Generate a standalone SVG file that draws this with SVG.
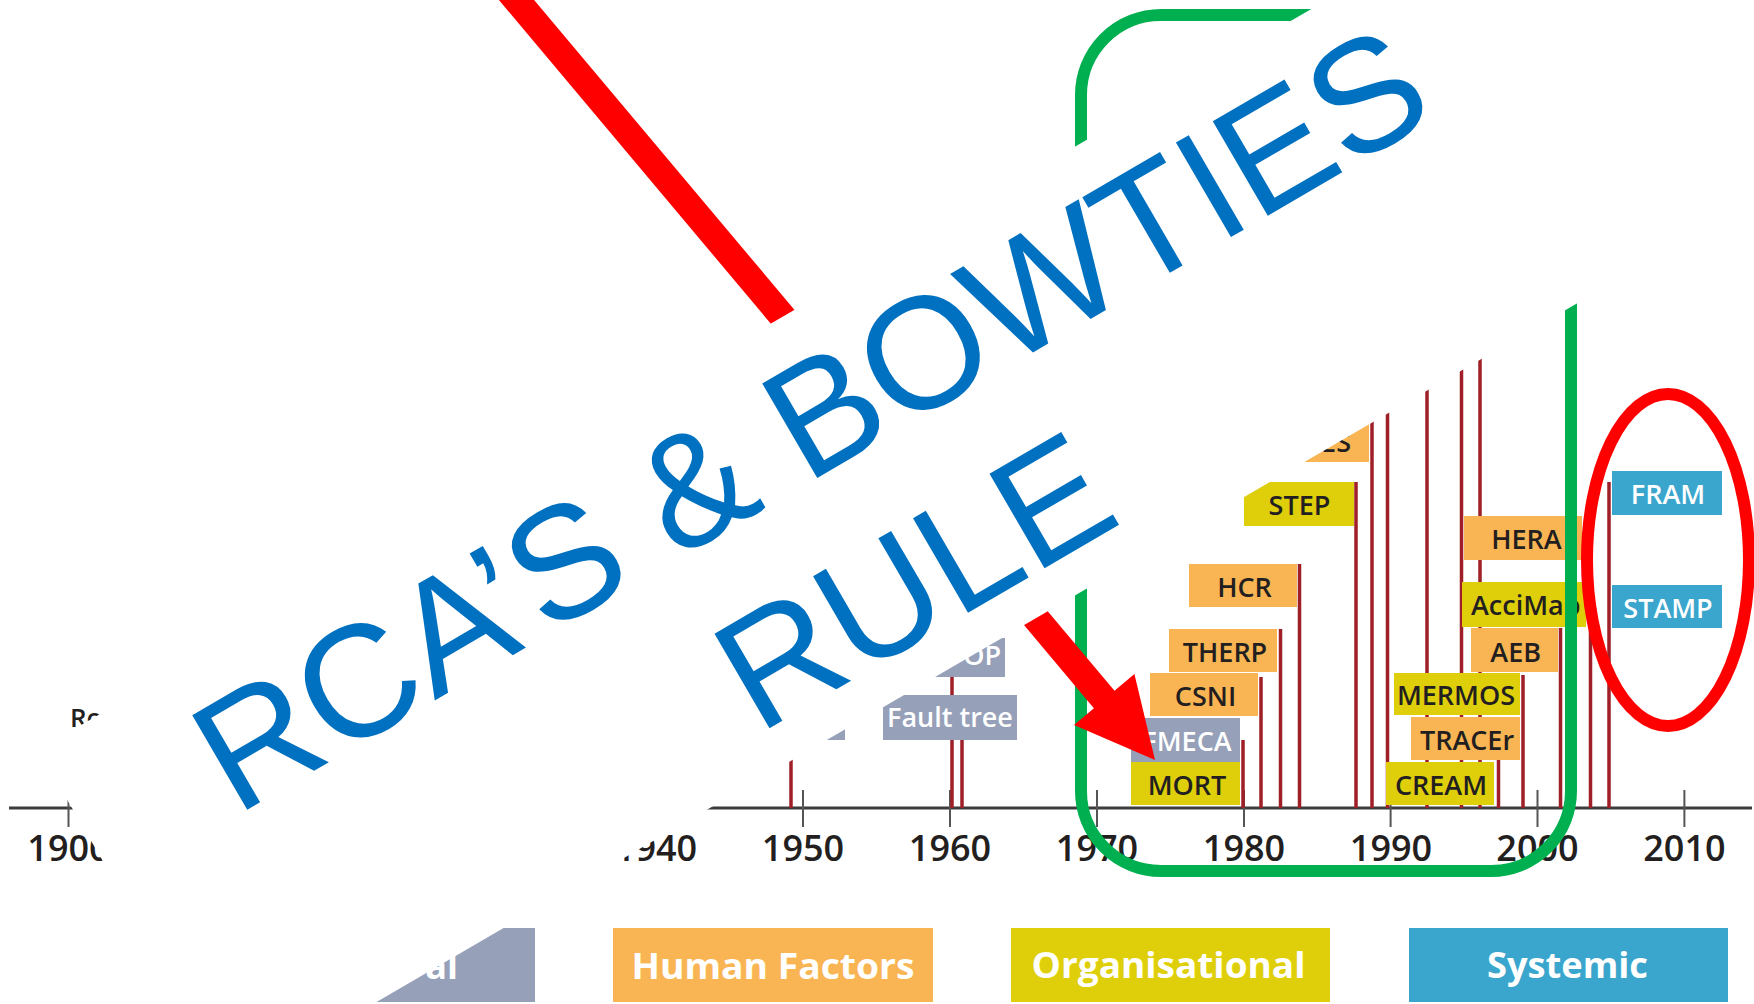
<svg xmlns="http://www.w3.org/2000/svg" width="1754" height="1004" viewBox="0 0 1754 1004">
<style>
.axis{stroke:#3c3c3c;stroke-width:3}
.tick{stroke:#555;stroke-width:2}
.yr{font-family:"Open Sans","Noto Sans",sans-serif;font-weight:600;font-size:36px;fill:#231f20;text-anchor:middle}
.stem{stroke:#9e1f27;stroke-width:3.5}
.lbl{font-family:"Open Sans","Noto Sans",sans-serif;font-weight:600;font-size:27px;text-anchor:middle}
.dark{fill:#231f20}
.light{fill:#fff}
.tech{fill:#96a0b8}
.hf{fill:#f9b553}
.org{fill:#dfcf0b}
.sys{fill:#3aa6cd}
.leg{font-family:"Open Sans","Noto Sans",sans-serif;font-weight:700;font-size:36px;fill:#fff;text-anchor:middle}
.big{font-family:"Liberation Sans",Arial,sans-serif;font-size:159px;fill:#0070c0}
</style>
<rect x="0" y="0" width="1754" height="1004" fill="#fff"/>

<g id="timeline-axis">
<line class="axis" x1="9" y1="808" x2="1752" y2="808"/>
<line class="tick" x1="68.5" y1="790" x2="68.5" y2="827"/>
<line class="tick" x1="803" y1="790" x2="803" y2="827"/>
<line class="tick" x1="950" y1="790" x2="950" y2="827"/>
<line class="tick" x1="1097" y1="790" x2="1097" y2="827"/>
<line class="tick" x1="1244" y1="790" x2="1244" y2="827"/>
<line class="tick" x1="1390.6" y1="790" x2="1390.6" y2="827"/>
<line class="tick" x1="1537.5" y1="790" x2="1537.5" y2="827"/>
<line class="tick" x1="1684.4" y1="790" x2="1684.4" y2="827"/>
<text class="yr" x="68.5" y="861">1900</text>
<text class="yr" x="656" y="861">1940</text>
<text class="yr" x="803" y="861">1950</text>
<text class="yr" x="950" y="861">1960</text>
<text class="yr" x="1097" y="861">1970</text>
<text class="yr" x="1244" y="861">1980</text>
<text class="yr" x="1391" y="861">1990</text>
<text class="yr" x="1537.5" y="861">2000</text>
<text class="yr" x="1684.4" y="861">2010</text>
</g>

<g id="connectors">
<line class="stem" x1="791" y1="740" x2="791" y2="808"/>
<line class="stem" x1="952" y1="677" x2="952" y2="808"/>
<line class="stem" x1="962" y1="740" x2="962" y2="808"/>
<line class="stem" x1="1243" y1="740" x2="1243" y2="808"/>
<line class="stem" x1="1261" y1="677" x2="1261" y2="808"/>
<line class="stem" x1="1280.5" y1="629" x2="1280.5" y2="808"/>
<line class="stem" x1="1299.5" y1="564" x2="1299.5" y2="808"/>
<line class="stem" x1="1356" y1="482" x2="1356" y2="808"/>
<line class="stem" x1="1372" y1="418" x2="1372" y2="808"/>
<line class="stem" x1="1387.5" y1="300" x2="1387.5" y2="808"/>
<line class="stem" x1="1427" y1="300" x2="1427" y2="808"/>
<line class="stem" x1="1461.5" y1="300" x2="1461.5" y2="808"/>
<line class="stem" x1="1480" y1="300" x2="1480" y2="808"/>
<line class="stem" x1="1498.5" y1="760" x2="1498.5" y2="808"/>
<line class="stem" x1="1523" y1="675" x2="1523" y2="808"/>
<line class="stem" x1="1560.5" y1="628" x2="1560.5" y2="808"/>
<line class="stem" x1="1590.5" y1="560" x2="1590.5" y2="808"/>
<line class="stem" x1="1609" y1="482" x2="1609" y2="808"/>
</g>

<g id="node-fmea"><rect class="tech" x="736" y="697" width="109" height="43"/></g>
<g id="node-faulttree"><rect class="tech" x="883" y="695" width="134" height="45"/><text class="lbl light" x="950" y="727">Fault tree</text></g>
<g id="node-hazop"><rect class="tech" x="895" y="638" width="110" height="39"/><text class="lbl light" x="1001" y="665" text-anchor="end" style="text-anchor:end">OP</text></g>
<g id="node-hpes"><rect class="hf" x="1259" y="418" width="110" height="44"/><text class="lbl dark" x="1351" y="452" style="text-anchor:end">ES</text></g>
<g id="node-step"><rect class="org" x="1244" y="482" width="110" height="44"/><text class="lbl dark" x="1299.5" y="515">STEP</text></g>
<g id="node-hcr"><rect class="hf" x="1189" y="564" width="108" height="43"/><text class="lbl dark" x="1244.5" y="597">HCR</text></g>
<g id="node-therp"><rect class="hf" x="1169" y="629" width="108" height="43"/><text class="lbl dark" x="1225" y="662">THERP</text></g>
<g id="node-csni"><rect class="hf" x="1150" y="673" width="108" height="43"/><text class="lbl dark" x="1205.5" y="706">CSNI</text></g>
<g id="node-fmeca"><rect class="tech" x="1131" y="718" width="109" height="44"/><text class="lbl light" x="1187" y="751">FMECA</text></g>
<g id="node-mort"><rect class="org" x="1131" y="762" width="109" height="43"/><text class="lbl dark" x="1187" y="795">MORT</text></g>
<g id="node-cream"><rect class="org" x="1386" y="762" width="108" height="43"/><text class="lbl dark" x="1441" y="795">CREAM</text></g>
<g id="node-tracer"><rect class="hf" x="1411" y="717" width="109" height="43"/><text class="lbl dark" x="1467" y="750">TRACEr</text></g>
<g id="node-mermos"><rect class="org" x="1394" y="673" width="126" height="42"/><text class="lbl dark" x="1456" y="705">MERMOS</text></g>
<g id="node-aeb"><rect class="hf" x="1471" y="628" width="87" height="44"/><text class="lbl dark" x="1515.7" y="662">AEB</text></g>
<g id="node-accimap"><rect class="org" x="1462" y="582" width="124" height="45"/><text class="lbl dark" x="1471" y="615" style="text-anchor:start">AcciMap</text></g>
<g id="node-hera"><rect class="hf" x="1464" y="516" width="118" height="44"/><text class="lbl dark" x="1526.5" y="549">HERA</text></g>
<g id="node-fram"><rect class="sys" x="1612" y="471" width="110" height="44"/><text class="lbl light" x="1668" y="504">FRAM</text></g>
<g id="node-stamp"><rect class="sys" x="1612" y="585" width="110" height="43"/><text class="lbl light" x="1668" y="618">STAMP</text></g>
<g id="node-rootcause"><text class="lbl dark" x="70" y="727" font-size="26" style="text-anchor:start;font-size:26px">Ro</text></g>

<g id="legend">
<g id="legend-technical"><rect class="tech" x="215" y="928" width="320" height="74"/><text class="leg" x="458" y="979" style="text-anchor:end">al</text></g>
<g id="legend-human"><rect class="hf" x="613" y="928" width="320" height="74"/><text class="leg" x="773" y="979" textLength="283" lengthAdjust="spacingAndGlyphs">Human Factors</text></g>
<g id="legend-org"><rect class="org" x="1011" y="928" width="319" height="74"/><text class="leg" x="1168.5" y="978" textLength="274" lengthAdjust="spacingAndGlyphs">Organisational</text></g>
<g id="legend-sys"><rect class="sys" x="1409" y="928" width="319" height="74"/><text class="leg" x="1567.5" y="978" textLength="161" lengthAdjust="spacingAndGlyphs">Systemic</text></g>
</g>

<g id="highlight">
<rect x="1081" y="15" width="490" height="856" rx="80" ry="80" fill="none" stroke="#00b050" stroke-width="12"/>
<ellipse cx="1668" cy="560" rx="81" ry="166" fill="none" stroke="#ff0000" stroke-width="12"/>
<polygon fill="#ff0000" points="493.2,-48.7 1114.5,690.8 1134.4,674.1 1155,760 1074,724.9 1093.9,708.2 472.6,-31.3"/>
</g>

<g id="banner">
<rect x="0" y="0" width="2400" height="388" fill="#fff" transform="translate(38.2 750) rotate(-30.2)"/>
<g transform="translate(235.9 816.3) rotate(-30.2)">
<text class="big" x="0" y="0">RCA’S &amp; BOWTIES</text>
<text class="big" x="492.6" y="192.3">RULE</text>
</g>
</g>
</svg>
